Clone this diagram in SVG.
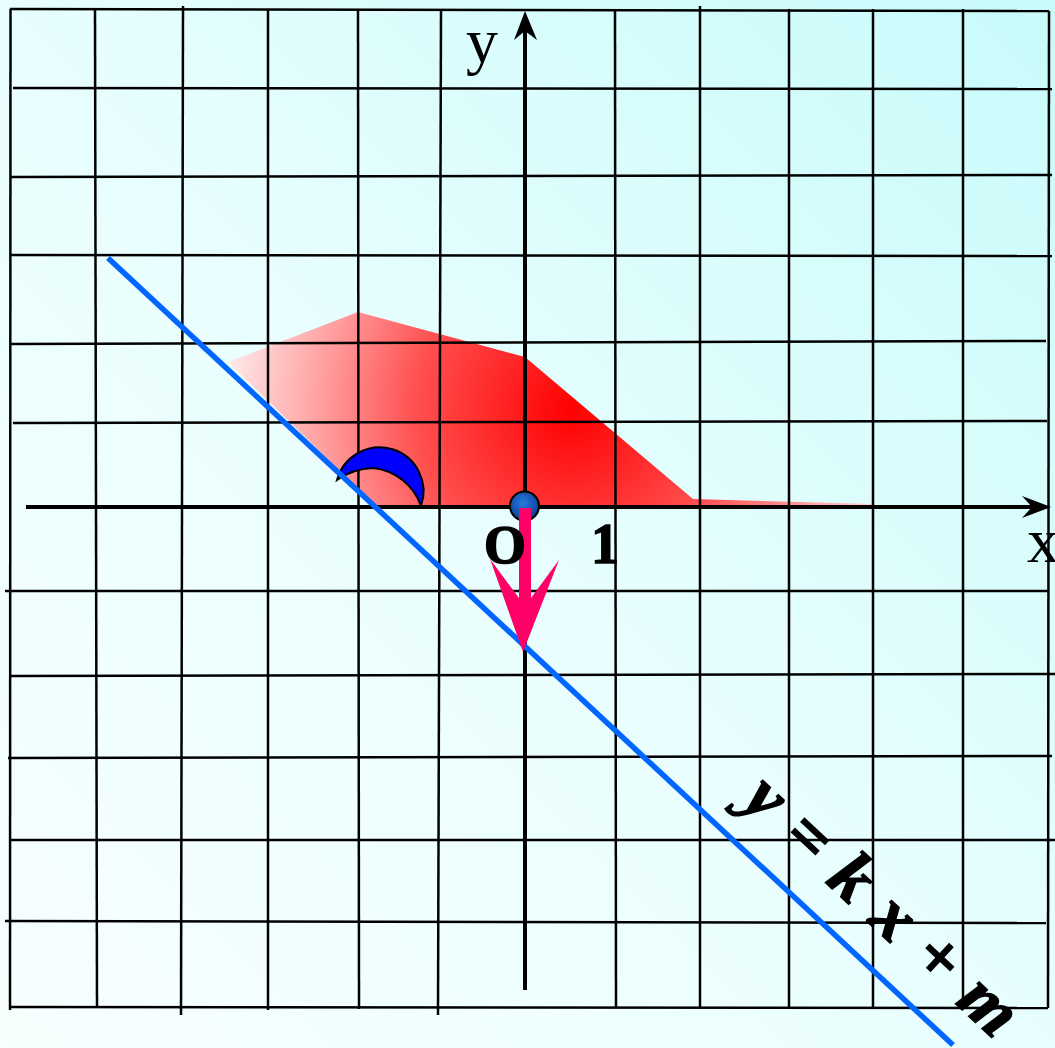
<svg xmlns="http://www.w3.org/2000/svg" width="1055" height="1048" viewBox="0 0 1055 1048">
<defs>
<linearGradient id="bg" x1="1" y1="0" x2="0" y2="1">
<stop offset="0" stop-color="#c8fbfb"/>
<stop offset="0.5" stop-color="#e8fefe"/>
<stop offset="1" stop-color="#f8ffff"/>
</linearGradient>
<radialGradient id="redg" gradientUnits="userSpaceOnUse" cx="572" cy="410" r="350">
<stop offset="0" stop-color="#ff0000"/>
<stop offset="0.45" stop-color="#ff5050"/>
<stop offset="0.75" stop-color="#ffa8a8"/>
<stop offset="1" stop-color="#ffecec"/>
</radialGradient>
<radialGradient id="dot" cx="0.45" cy="0.4" r="0.6">
<stop offset="0" stop-color="#2a7ae0"/>
<stop offset="1" stop-color="#0a3f95"/>
</radialGradient>
<style>
.g{stroke:#000;stroke-width:2.5;fill:none}
.ax{stroke:#000;stroke-width:4;fill:none}
.lbl{font-family:"Liberation Serif","Times New Roman",serif;fill:#000}
.heavy{font-weight:bold;stroke:#000;stroke-width:1.5}
</style>
</defs>
<rect width="1055" height="1048" fill="url(#bg)"/>
<g id="shaded-region">
<polygon points="228,362 358,312 525,357 693,499 875,504 875,507 377,507" fill="url(#redg)"/>
</g>
<g id="grid">
<line class="g" x1="10" y1="9" x2="1049" y2="11"/>
<line class="g" x1="13" y1="88" x2="1052" y2="89"/>
<line class="g" x1="10" y1="177" x2="1052" y2="175"/>
<line class="g" x1="10" y1="255" x2="1052" y2="256"/>
<line class="g" x1="11" y1="344" x2="1046" y2="341"/>
<line class="g" x1="13" y1="423" x2="1047" y2="421"/>
<line class="g" x1="5" y1="591" x2="1049" y2="591"/>
<line class="g" x1="10" y1="676" x2="1055" y2="674"/>
<line class="g" x1="8" y1="758" x2="1052" y2="756"/>
<line class="g" x1="10" y1="840" x2="1055" y2="840"/>
<line class="g" x1="5" y1="921" x2="1046" y2="923"/>
<line class="g" x1="10" y1="1007" x2="1048" y2="1008"/>
<line class="g" x1="10.5" y1="9" x2="10" y2="1010"/>
<line class="g" x1="95" y1="9" x2="97" y2="1007"/>
<line class="g" x1="183" y1="6" x2="181" y2="1015"/>
<line class="g" x1="268" y1="9" x2="268" y2="1010"/>
<line class="g" x1="358" y1="9" x2="359" y2="1009"/>
<line class="g" x1="441" y1="9" x2="438" y2="1015"/>
<line class="g" x1="615" y1="9" x2="616" y2="1008"/>
<line class="g" x1="700" y1="6" x2="700" y2="1008"/>
<line class="g" x1="789" y1="9" x2="789" y2="1008"/>
<line class="g" x1="873" y1="9" x2="873" y2="1008"/>
<line class="g" x1="963" y1="9" x2="963" y2="1008"/>
<line class="g" x1="1049" y1="11" x2="1048" y2="1008"/>
</g>
<g id="angle-mark">
<path d="M337,480 A44,44 0 1 1 421,506 A57,57 0 0 0 373,468 Q352,469 337,480 Z" fill="#0000ff" stroke="#000" stroke-width="2"/>
</g>
<g id="axes">
<line class="ax" x1="26" y1="507" x2="1035" y2="507"/>
<polygon points="1051,507 1022,496 1032,507 1022,518" fill="#000"/>
<line class="ax" x1="525" y1="990" x2="525" y2="28"/>
<polygon points="525,11 514,40 525,31 537,40" fill="#000"/>
</g>
<g id="line-ykxm">
<line x1="108" y1="258" x2="953" y2="1045" stroke="#0066ff" stroke-width="5.5"/>
</g>
<g id="origin">
<circle cx="524.5" cy="506" r="14.5" fill="url(#dot)" stroke="#000" stroke-width="2"/>
</g>
<g id="vector-arrow">
<polygon points="519,508 531,508 531,598 559,560 523,652 490,559 519,598" fill="#ff0066"/>
</g>
<g id="labels">
<text class="lbl" x="466" y="62" font-size="64">y</text>
<text class="lbl" x="1027" y="562" font-size="64">x</text>
<text class="lbl heavy" x="484" y="563" font-size="54">O</text>
<text class="lbl heavy" x="591" y="563" font-size="56">1</text>
<text class="lbl heavy" font-size="70" font-style="italic" letter-spacing="2.5" transform="translate(740,803) rotate(43)">y = k x + m</text>
</g>
</svg>
